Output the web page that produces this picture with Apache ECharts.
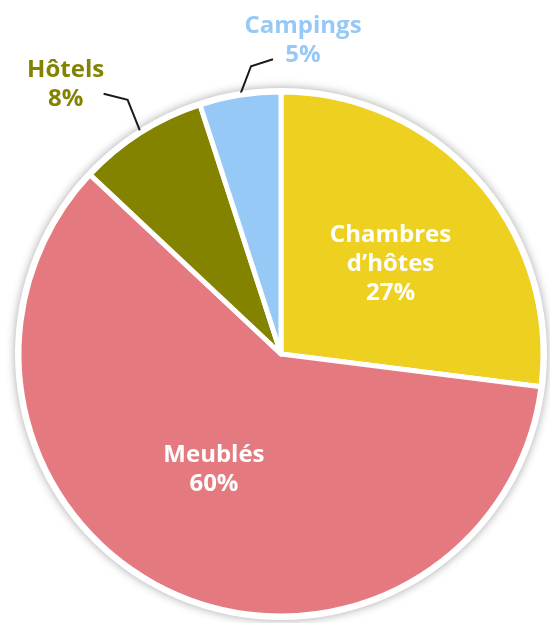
<!DOCTYPE html>
<html>
<head>
<meta charset="utf-8">
<script src="https://cdn.jsdelivr.net/npm/echarts@6/dist/echarts.min.js"></script>
<style>
  html, body { margin: 0; padding: 0; background: #fff; }
  #chart { width: 550px; height: 623px; }
</style>
</head>
<body>
<div id="chart"></div>
<script>
// data
var categories = ['Chambres d’hôtes', 'Meublés', 'Hôtels', 'Campings'];
var shares = [27, 60, 8, 5];
var outsideCategories = ['Hôtels', 'Campings'];

var sliceColors = ['#edd020', '#e47a80', '#838300', '#96c9f5'];

var chart = echarts.init(document.getElementById('chart'));

var pieData = categories.map(function (name, i) {
  var item = { name: name, value: shares[i], itemStyle: { color: sliceColors[i] } };
  if (outsideCategories.indexOf(name) >= 0) {
    item.label = { position: 'outside', color: sliceColors[i], overflow: 'none' };
    item.labelLine = { show: true };
  }
  return item;
});

var option = {
  animation: false,
  series: [
    {
      // white disc with soft shadow behind the pie
      type: 'pie',
      silent: true,
      center: [281, 354],
      radius: 266,
      z: 1,
      label: { show: false },
      labelLine: { show: false },
      itemStyle: {
        color: '#fff',
        shadowBlur: 10,
        shadowColor: 'rgba(0,0,0,0.35)'
      },
      data: [{ value: 1 }]
    },
    {
      type: 'pie',
      silent: true,
      z: 2,
      center: [281, 354],
      radius: 262,
      startAngle: 90,
      clockwise: true,
      avoidLabelOverlap: false,
      itemStyle: { borderColor: '#fff', borderWidth: 5 },
      label: {
        show: true,
        position: 'inside',
        color: '#fff',
        fontFamily: 'Open Sans',
        fontWeight: 'bold',
        fontSize: 24,
        lineHeight: 29,
        align: 'center',
        overflow: 'none',
        formatter: function (p) {
          return p.name.replace(' ', '\n') + '\n' + Math.round(p.percent) + '%';
        }
      },
      labelLine: {
        show: false,
        length: 36,
        length2: 24,
        lineStyle: { color: '#1a1a1a', width: 2 }
      },
      labelLayout: function (p) {
        var pts = p.labelLinePoints;
        var name = categories[p.dataIndex];
        if (name === 'Chambres d’hôtes') return { dx: 9, dy: -1 };
        if (name === 'Meublés') return { dx: -10, dy: -6 };
        if (!pts) return {};
        if (name === 'Campings') {
          pts[1] = [pts[0][0] + 11, pts[0][1] - 29];
          pts[2] = [pts[1][0] + 22, pts[1][1] - 7];
          return { x: pts[2][0] + 30, y: pts[2][1] - 19, align: 'center', verticalAlign: 'middle', labelLinePoints: pts };
        }
        if (name === 'Hôtels') {
          pts[0] = [pts[0][0] + 5, pts[0][1] + 12];
          pts[1] = [pts[0][0] - 18, pts[0][1] - 45];
          pts[2] = [pts[1][0] - 24, pts[1][1] - 6];
          return { x: pts[2][0] - 38, y: pts[2][1] - 9, align: 'center', verticalAlign: 'middle', labelLinePoints: pts };
        }
        return {};
      },
      data: pieData
    }
  ]
};

chart.setOption(option);
</script>
</body>
</html>
